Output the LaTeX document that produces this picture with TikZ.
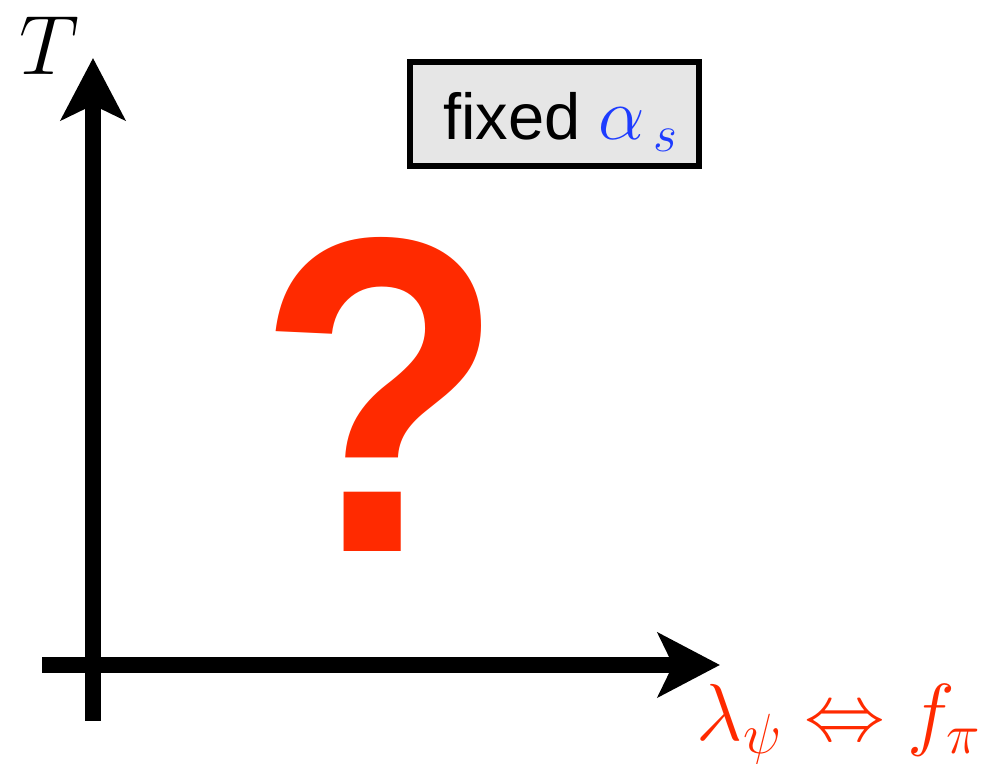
\RequirePackage{fix-cm}
\documentclass[tikz,border=0pt]{standalone}
\usepackage{fontspec}
\setsansfont{Liberation Sans}
\usetikzlibrary{arrows.meta}
\definecolor{qred}{RGB}{255,42,0}
\definecolor{cblue}{RGB}{30,60,255}
\definecolor{boxgray}{RGB}{230,230,230}
\begin{document}
\begin{tikzpicture}[
    axis/.style={line width=0.32cm, -{Stealth[length=1.24cm, width=1.28cm, inset=0.3cm]}},
    tag/.style={rectangle, draw, line width=0.12cm, fill=boxgray, minimum width=5.78cm,
                minimum height=2.08cm, text height=1.2cm, text depth=0.16cm,
                font=\sffamily\fontsize{37}{40}\selectfont},
    bigq/.style={inner sep=0pt, text=qred, font=\sffamily\bfseries\fontsize{256}{260}\selectfont}
]
    \useasboundingbox (0,0) rectangle (20.06,15.28);

    % axes
    \coordinate (ybot) at (1.86, 0.86);
    \coordinate (ytop) at (1.86, 14.12);
    \coordinate (xleft)  at (0.84, 1.98);
    \coordinate (xright) at (14.40, 1.98);
    \draw[axis] (ybot) -- (ytop);
    \draw[axis] (xleft) -- (xright);

    \node (tlabel) at (0.98, 14.36) {\fontsize{48}{50}\selectfont $T$};
    \node[anchor=base, text=qred, inner sep=0pt] (xlabel) at (16.78, 0.46)
        {\fontsize{46}{48}\selectfont $\lambda_\psi \Leftrightarrow f_\pi$};

    \node[tag] (fixedbox) at (11.09, 13.0)
        {\hspace{0.25cm}fixed \textcolor{cblue}{\fontsize{42}{44}\selectfont$\alpha_{\,s}$}};

    \node[bigq] (qmark) at (7.63, 7.4) {\scalebox{0.9}[1]{?}};
\end{tikzpicture}
\end{document}
